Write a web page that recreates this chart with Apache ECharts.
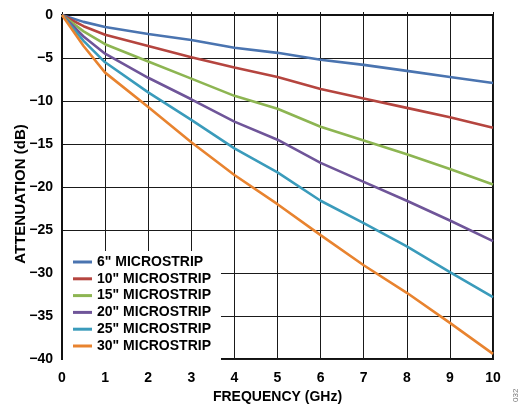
<!DOCTYPE html>
<html>
<head>
<meta charset="utf-8">
<script src="https://cdn.jsdelivr.net/npm/echarts@6/dist/echarts.min.js"></script>
<style>
html,body{margin:0;padding:0;background:#fff;}
#chart{width:524px;height:408px;}
</style>
</head>
<body>
<div id="chart"></div>
<script>
var freqGHz = [0, 0.5, 1, 2, 3, 4, 5, 6, 7, 8, 9, 10];
var seriesNames = ['6" MICROSTRIP', '10" MICROSTRIP', '15" MICROSTRIP', '20" MICROSTRIP', '25" MICROSTRIP', '30" MICROSTRIP'];
var att6 =  [0, -0.8, -1.4, -2.2, -2.9, -3.8, -4.4, -5.2, -5.8, -6.5, -7.2, -7.9];
var att10 = [0, -1.3, -2.3, -3.6, -4.9, -6.1, -7.2, -8.6, -9.7, -10.8, -11.9, -13.1];
var att15 = [0, -1.9, -3.4, -5.4, -7.4, -9.4, -10.9, -13.0, -14.6, -16.2, -17.9, -19.7];
var att20 = [0, -2.5, -4.5, -7.3, -9.8, -12.4, -14.5, -17.2, -19.4, -21.6, -23.9, -26.3];
var att25 = [0, -3.0, -5.5, -9.0, -12.2, -15.5, -18.3, -21.6, -24.2, -26.9, -29.9, -32.8];
var att30 = [0, -3.6, -6.7, -10.7, -14.8, -18.6, -22.0, -25.6, -29.1, -32.3, -35.8, -39.4];
var colors = ['#4a74b0', '#b5453f', '#8db552', '#6f5599', '#3a9bbb', '#e8832f'];

var allData = [att6, att10, att15, att20, att25, att30];
var FONT = '"Liberation Sans", Arial, sans-serif';

function pairs(arr) {
  return arr.map(function (v, i) { return [freqGHz[i], v]; });
}

var series = allData.map(function (arr, k) {
  return {
    name: seriesNames[k],
    type: 'line',
    data: pairs(arr),
    symbol: 'none',
    lineStyle: { color: colors[k], width: 2.6 },
    itemStyle: { color: colors[k] },
    z: 3
  };
});

var chart = echarts.init(document.getElementById('chart'), null, { renderer: 'canvas' });
chart.setOption({
  animation: false,
  backgroundColor: '#fff',
  color: colors,
  grid: { left: 62, right: 31, top: 15, bottom: 49, containLabel: false, outerBoundsMode: 'none', show: true, borderColor: '#111', borderWidth: 2, backgroundColor: 'transparent' },
  legend: {
    orient: 'vertical',
    left: 63,
    top: 251,
    padding: [4, 10, 7, 10],
    backgroundColor: '#fff',
    itemWidth: 19,
    itemHeight: 3,
    itemGap: 2.8,
    itemTextGap: 5,
    icon: 'rect',
    textStyle: { fontFamily: FONT, fontWeight: 'bold', fontSize: 14, color: '#000', lineHeight: 14 },
    data: seriesNames,
    z: 5
  },
  xAxis: {
    type: 'value',
    min: 0, max: 10, interval: 1,
    name: 'FREQUENCY (GHz)',
    nameLocation: 'middle',
    nameGap: 31,
    nameMoveOverlap: false,
    nameTextStyle: { fontFamily: FONT, fontWeight: 'bold', fontSize: 14, color: '#000' },
    axisLine: { show: true, lineStyle: { color: '#111', width: 2 } },
    axisTick: { show: true, inside: true, length: 3, lineStyle: { color: '#111' } },
    axisLabel: { fontFamily: FONT, fontWeight: 'bold', fontSize: 14, color: '#000', margin: 12 },
    splitLine: { show: true, lineStyle: { color: '#1a1a1a', width: 1 } }
  },
  yAxis: {
    type: 'value',
    min: -40, max: 0, interval: 5,
    name: 'ATTENUATION (dB)',
    nameLocation: 'middle',
    nameGap: 34,
    nameMoveOverlap: false,
    nameTextStyle: { fontFamily: FONT, fontWeight: 'bold', fontSize: 15, color: '#000', padding: [0, 14, 0, 0] },
    axisLine: { show: true, lineStyle: { color: '#111', width: 2 } },
    axisTick: { show: true, inside: true, length: 3, lineStyle: { color: '#111' } },
    axisLabel: {
      fontFamily: FONT, fontWeight: 'bold', fontSize: 14, color: '#000', margin: 9,
      formatter: function (v) { return String(v).replace('-', '\u2212'); }
    },
    splitLine: { show: true, lineStyle: { color: '#1a1a1a', width: 1 } }
  },
  graphic: [{
    type: 'text',
    x: 512, y: 402,
    rotation: Math.PI / 2,
    style: { text: '032', fontFamily: FONT, fontSize: 8, fill: '#777' }
  }],
  series: series
});
</script>
</body>
</html>
